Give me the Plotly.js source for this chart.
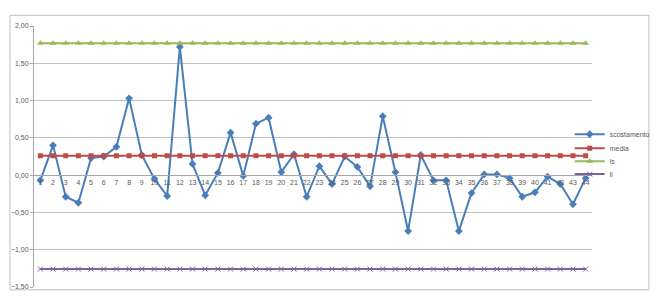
<!DOCTYPE html>
<html>
<head>
<meta charset="utf-8">
<script src="https://cdn.plot.ly/plotly-3.0.1.min.js"></script>
<style>
html,body{margin:0;padding:0;background:#fff;}
#chart{width:657px;height:299px;}
</style>
</head>
<body>
<div id="chart"></div>
<script>
const categories = [1,2,3,4,5,6,7,8,9,10,11,12,13,14,15,16,17,18,19,20,21,22,23,24,25,26,27,28,29,30,31,32,33,34,35,36,37,38,39,40,41,42,43,44];
const scostamento = [-0.07,0.40,-0.29,-0.37,0.23,0.25,0.38,1.03,0.27,-0.05,-0.28,1.72,0.15,-0.27,0.03,0.57,-0.01,0.69,0.77,0.04,0.28,-0.29,0.12,-0.12,0.25,0.11,-0.15,0.79,0.04,-0.75,0.27,-0.07,-0.07,-0.75,-0.24,0.01,0.01,-0.04,-0.29,-0.23,-0.02,-0.12,-0.39,-0.04];
const mediaValue = 0.26;
const lsValue = 1.77;
const liValue = -1.26;
const media = categories.map(() => mediaValue);
const ls = categories.map(() => lsValue);
const li = categories.map(() => liValue);
const yTicks = [-1.5,-1.0,-0.5,0,0.5,1.0,1.5,2.0];

const traces = [
  {x: categories, y: scostamento, name: 'scostamento', type: 'scatter', mode: 'lines+markers', legend: 'legend',
   line: {color: '#4a7ebb', width: 2}, marker: {symbol: 'diamond', size: 6, color: '#4a7ebb'}},
  {x: categories, y: media, name: 'media', type: 'scatter', mode: 'lines+markers', legend: 'legend2',
   line: {color: '#be4b48', width: 2}, marker: {symbol: 'square', size: 5, color: '#be4b48'}},
  {x: categories, y: ls, name: 'ls', type: 'scatter', mode: 'lines+markers', legend: 'legend3',
   line: {color: '#98b954', width: 2}, marker: {symbol: 'triangle-up', size: 6, color: '#98b954'}},
  {x: categories, y: li, name: 'li', type: 'scatter', mode: 'lines+markers', legend: 'legend4',
   line: {color: '#7d60a0', width: 2}, marker: {symbol: 'x-thin', size: 5, color: '#7d60a0', line: {color: '#7d60a0', width: 1}}}
];

const yMin = -1.5, yMax = 2.0;
function legendAt(y) {
  return {x: 0.96, xanchor: 'left', y: y, yanchor: 'middle', bgcolor: 'rgba(0,0,0,0)',
          font: {size: 7, color: '#595959'}, itemwidth: 30};
}
const layout = {
  width: 657, height: 299,
  margin: {l: 34, r: 65, t: 26, b: 12, pad: 0, autoexpand: false},
  paper_bgcolor: '#ffffff', plot_bgcolor: '#ffffff',
  separators: ',.',
  font: {family: 'Liberation Sans, Arial, sans-serif', size: 7, color: '#595959'},
  showlegend: true,
  legend: legendAt(0.5855),
  legend2: legendAt(0.532),
  legend3: legendAt(0.482),
  legend4: legendAt(0.4325),
  xaxis: {type: 'linear', range: [0.5, 44.5], tickmode: 'array', tickvals: categories,
          ticktext: categories.map(String), anchor: 'free', position: (0 - yMin) / (yMax - yMin),
          showline: true, linecolor: '#a6a6a6', linewidth: 1, showgrid: false, zeroline: false,
          ticks: '', tickfont: {size: 7, color: '#595959'}, fixedrange: true},
  yaxis: {range: [yMin, yMax], tickmode: 'array', tickvals: yTicks, tickformat: '.2f',
          showgrid: true, gridcolor: '#bfbfbf', gridwidth: 1, zeroline: false,
          showline: true, linecolor: '#a6a6a6', linewidth: 1, ticks: 'outside', ticklen: 3,
          tickcolor: '#a6a6a6', tickfont: {size: 7, color: '#595959'}, fixedrange: true},
  shapes: [
    {type: 'rect', xref: 'paper', yref: 'paper', x0: -0.043, x1: 1.102, y0: -0.011, y1: 1.041,
     line: {color: '#bfbfbf', width: 1}, fillcolor: 'rgba(0,0,0,0)', layer: 'below'}
  ]
};

Plotly.newPlot('chart', traces, layout, {displayModeBar: false, staticPlot: true});
</script>
</body>
</html>
